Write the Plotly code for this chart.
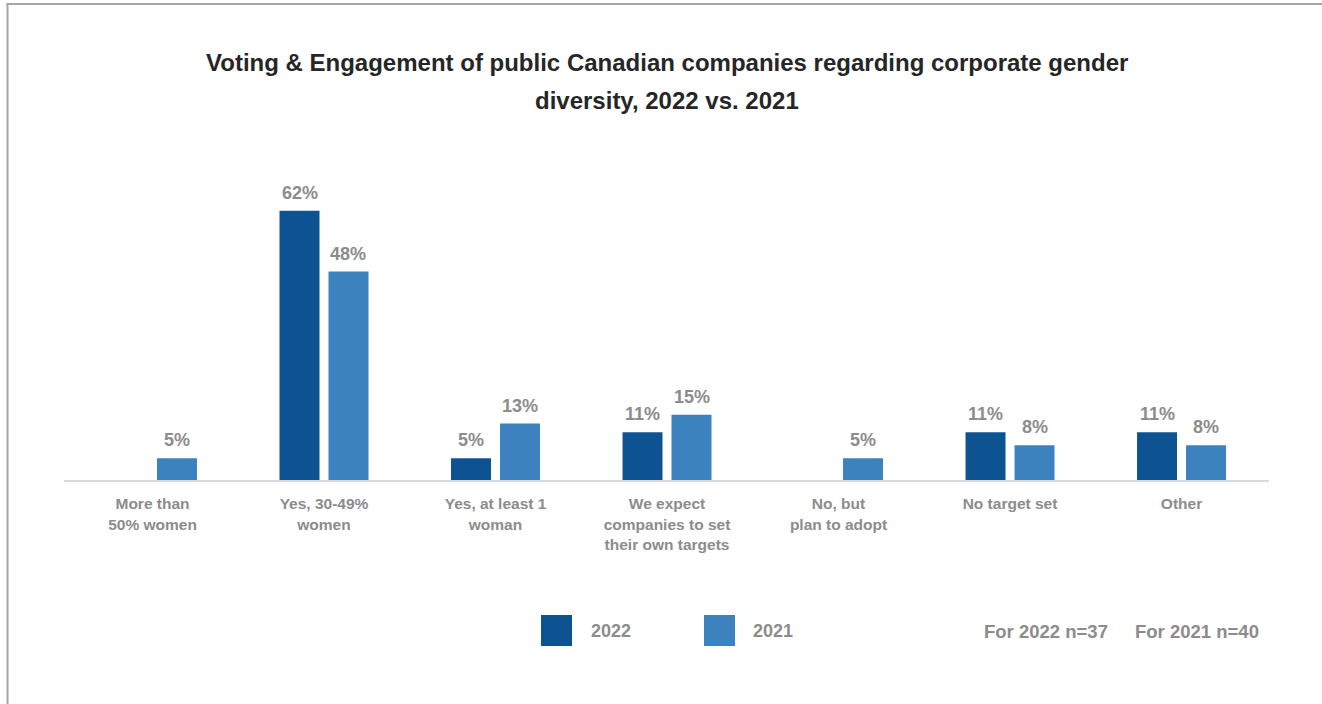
import plotly.graph_objects as go

# Survey data
categories = [
    "More than<br>50% women",
    "Yes, 30-49%<br>women",
    "Yes, at least 1<br>woman",
    "We expect<br>companies to set<br>their own targets",
    "No, but<br>plan to adopt",
    "No target set",
    "Other",
]
values_2022 = [None, 62, 5, 11, None, 11, 11]
values_2021 = [5, 48, 13, 15, 5, 8, 8]
series_names = ["2022", "2021"]
sample_notes = ["For 2022 n=37", "For 2021 n=40"]
title_lines = [
    "Voting & Engagement of public Canadian companies regarding corporate gender",
    "diversity, 2022 vs. 2021",
]

COLOR_2022 = "#0E5391"
COLOR_2021 = "#3C82BF"
GRAY = "#8C8C8C"
FONT = "Arial, Liberation Sans, sans-serif"

# Page geometry (pixels)
W, H = 1322, 704
ML, MR, MT, MB = 64, 53, 176, 224
PW, PH = W - ML - MR, H - MT - MB

X_RANGE = [-0.516, 6.510]
BARGAP = 0.4286


def px_x(p):
    return (p - ML) / PW


def px_y(q):
    return (H - MB - q) / PH


fig = go.Figure()
for name, vals, color in [
    (series_names[0], values_2022, COLOR_2022),
    (series_names[1], values_2021, COLOR_2021),
]:
    fig.add_trace(
        go.Bar(
            name=name,
            x=list(range(len(categories))),
            y=vals,
            marker=dict(color=color, line=dict(width=0)),
            showlegend=False,
            hoverinfo="skip",
        )
    )

# Value labels above each bar
annotations = []
cat_px = PW / (X_RANGE[1] - X_RANGE[0])
slot = cat_px * (1 - BARGAP) / 2
for vals, shift in [(values_2022, -slot / 2), (values_2021, slot / 2)]:
    for i, v in enumerate(vals):
        if v is None:
            continue
        annotations.append(
            dict(
                x=i, y=v, xref="x", yref="y",
                text=f"{v}%", showarrow=False,
                xanchor="center", yanchor="bottom",
                xshift=shift, yshift=6,
                font=dict(family=FONT, size=18, color=GRAY, weight="bold"),
            )
        )

# Title (two lines)
for line, yc in zip(title_lines, [62, 100]):
    annotations.append(
        dict(
            x=0.5, y=px_y(yc), xref="paper", yref="paper",
            text=f"<b>{line}</b>", showarrow=False,
            xanchor="center", yanchor="middle",
            font=dict(family=FONT, size=24, color="#262626"),
        )
    )

# Custom legend
shapes = []
for name, color, kx, tx in [
    (series_names[0], COLOR_2022, 541, 589),
    (series_names[1], COLOR_2021, 704, 751),
]:
    shapes.append(
        dict(
            type="rect", xref="paper", yref="paper",
            x0=px_x(kx), x1=px_x(kx + 31), y0=px_y(646), y1=px_y(615),
            fillcolor=color, line=dict(width=0),
        )
    )
    annotations.append(
        dict(
            x=px_x(tx), y=px_y(631), xref="paper", yref="paper",
            text=f"<b>{name}</b>", showarrow=False,
            xanchor="left", yanchor="middle",
            font=dict(family=FONT, size=18, color=GRAY),
        )
    )

for note, nx in zip(sample_notes, [982, 1133]):
    annotations.append(
        dict(
            x=px_x(nx), y=px_y(631), xref="paper", yref="paper",
            text=f"<b>{note}</b>", showarrow=False,
            xanchor="left", yanchor="middle",
            font=dict(family=FONT, size=18.5, color=GRAY),
        )
    )

# Frame lines along the top and left edges
shapes.append(
    dict(
        type="line", xref="paper", yref="paper",
        x0=px_x(7.5), y0=px_y(H + 2), x1=px_x(7.5), y1=px_y(4),
        line=dict(color="#A6A6A6", width=2),
    )
)
shapes.append(
    dict(
        type="line", xref="paper", yref="paper",
        x0=px_x(6.5), y0=px_y(4), x1=px_x(W + 2), y1=px_y(4),
        line=dict(color="#A6A6A6", width=2),
    )
)

fig.update_layout(
    width=W, height=H,
    margin=dict(l=ML, r=MR, t=MT, b=MB, pad=0),
    paper_bgcolor="white", plot_bgcolor="white",
    barmode="group", bargap=BARGAP, bargroupgap=0.184,
    xaxis=dict(
        tickmode="array",
        tickvals=list(range(len(categories))),
        ticktext=[f"<b>{c}</b>" for c in categories],
        range=X_RANGE,
        showline=True, linecolor="#D9D9D9", linewidth=1.5,
        ticks="outside", ticklen=9, tickcolor="rgba(0,0,0,0)",
        tickfont=dict(family=FONT, size=15.5, color=GRAY),
        showgrid=False, zeroline=False, fixedrange=True,
    ),
    yaxis=dict(
        range=[0, 70], visible=False, showgrid=False, zeroline=False,
        fixedrange=True,
    ),
    annotations=annotations,
    shapes=shapes,
    showlegend=False,
)

fig.write_html("out.html", config={"displayModeBar": False})
